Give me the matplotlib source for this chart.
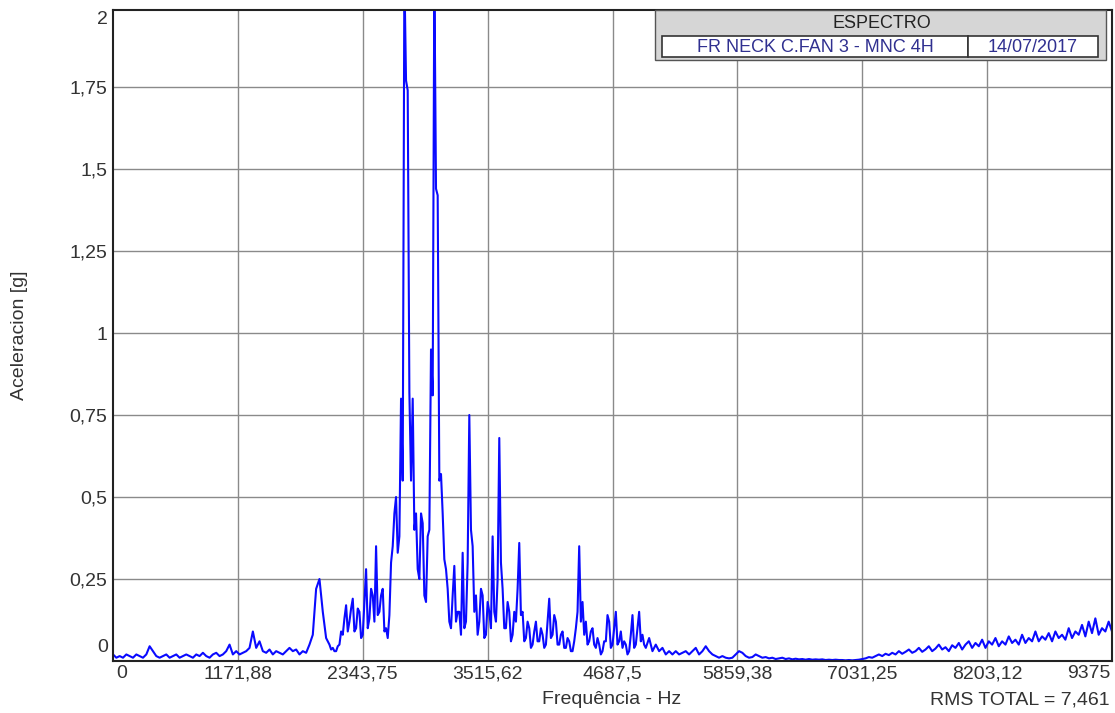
import numpy as np
import matplotlib.pyplot as plt
from matplotlib.patches import Rectangle

plt.rcParams['font.family'] = ['Liberation Sans', 'DejaVu Sans']

# spectrum: coarse bins below 2 kHz and above 5 kHz,
# finer bins through the busy 2-5 kHz band
lo_g = [
    0.02, 0.01, 0.015, 0.01, 0.02, 0.015, 0.01, 0.02,          # 0
    0.015, 0.01, 0.02, 0.045, 0.03, 0.015, 0.01, 0.015,        # 250
    0.02, 0.01, 0.015, 0.02, 0.01, 0.015, 0.02, 0.015,         # 500
    0.01, 0.02, 0.015, 0.025, 0.015, 0.01, 0.02, 0.025,        # 750
    0.015, 0.02, 0.03, 0.05, 0.02, 0.03, 0.02, 0.025,          # 1000
    0.03, 0.04, 0.09, 0.04, 0.06, 0.03, 0.025, 0.035,          # 1250
    0.02, 0.03, 0.025, 0.02, 0.03, 0.04, 0.03, 0.035,          # 1500
    0.02, 0.03, 0.025, 0.05, 0.08, 0.22, 0.25, 0.15,           # 1750
]
mid_g = [
    0.07, 0.06, 0.05, 0.035, 0.04, 0.03, 0.03, 0.045, 0.05, 0.09, 0.08, 0.13, 0.17, 0.09, 0.12, 0.16,   # 2000
    0.19, 0.09, 0.10, 0.16, 0.15, 0.07, 0.08, 0.18, 0.28, 0.10, 0.13, 0.22, 0.20, 0.12, 0.35, 0.14,     # 2250
    0.15, 0.20, 0.22, 0.09, 0.10, 0.07, 0.14, 0.30, 0.35, 0.45, 0.50, 0.33, 0.38, 0.80, 0.55, 2.10,     # 2500
    1.77, 1.74, 0.82, 0.55, 0.80, 0.40, 0.45, 0.28, 0.25, 0.45, 0.42, 0.20, 0.18, 0.38, 0.40, 0.95,     # 2750
    0.81, 2.10, 1.44, 1.42, 0.55, 0.57, 0.45, 0.31, 0.28, 0.22, 0.12, 0.10, 0.20, 0.29, 0.12, 0.15,     # 3000
    0.15, 0.08, 0.33, 0.10, 0.12, 0.30, 0.75, 0.40, 0.35, 0.15, 0.20, 0.08, 0.12, 0.22, 0.20, 0.07,     # 3250
    0.08, 0.18, 0.15, 0.10, 0.38, 0.15, 0.12, 0.25, 0.68, 0.30, 0.22, 0.10, 0.10, 0.18, 0.15, 0.06,     # 3500
    0.08, 0.15, 0.12, 0.22, 0.36, 0.14, 0.15, 0.06, 0.07, 0.12, 0.10, 0.04, 0.05, 0.09, 0.12, 0.06,     # 3750
    0.06, 0.10, 0.08, 0.04, 0.05, 0.12, 0.19, 0.07, 0.08, 0.14, 0.12, 0.05, 0.05, 0.08, 0.09, 0.04,     # 4000
    0.04, 0.07, 0.06, 0.03, 0.03, 0.06, 0.10, 0.15, 0.35, 0.12, 0.18, 0.08, 0.12, 0.05, 0.06, 0.09,     # 4250
    0.10, 0.05, 0.04, 0.07, 0.05, 0.02, 0.03, 0.06, 0.06, 0.14, 0.12, 0.04, 0.05, 0.10, 0.15, 0.05,     # 4500
    0.06, 0.09, 0.04, 0.06, 0.05, 0.02, 0.03, 0.08, 0.14, 0.04, 0.05, 0.10, 0.15, 0.06, 0.08, 0.05,     # 4750
]
hi_g = [
    0.04, 0.07, 0.03, 0.05, 0.03, 0.04, 0.02, 0.03,            # 5000
    0.02, 0.03, 0.02, 0.025, 0.03, 0.02, 0.03, 0.04,           # 5250
    0.02, 0.03, 0.045, 0.03, 0.02, 0.015, 0.01, 0.015,         # 5500
    0.01, 0.008, 0.01, 0.02, 0.03, 0.025, 0.015, 0.01,         # 5750
    0.012, 0.02, 0.015, 0.01, 0.012, 0.008, 0.01, 0.006,       # 6000
    0.008, 0.01, 0.006, 0.008, 0.005, 0.007, 0.005, 0.006,     # 6250
    0.004, 0.006, 0.004, 0.005, 0.004, 0.005, 0.003, 0.004,    # 6500
    0.003, 0.004, 0.003, 0.003, 0.002, 0.003, 0.002, 0.003,    # 6750
    0.004, 0.006, 0.008, 0.012, 0.01, 0.015, 0.02, 0.015,      # 7000
    0.022, 0.018, 0.025, 0.02, 0.03, 0.022, 0.028, 0.035,      # 7250
    0.025, 0.03, 0.04, 0.028, 0.035, 0.045, 0.03, 0.038,       # 7500
    0.05, 0.035, 0.042, 0.03, 0.048, 0.04, 0.055, 0.035,       # 7750
    0.05, 0.06, 0.04, 0.055, 0.045, 0.065, 0.04, 0.06,         # 8000
    0.05, 0.07, 0.045, 0.06, 0.05, 0.075, 0.055, 0.065,        # 8250
    0.05, 0.08, 0.055, 0.07, 0.06, 0.09, 0.06, 0.075,          # 8500
    0.065, 0.085, 0.06, 0.09, 0.07, 0.08, 0.065, 0.10,         # 8750
    0.07, 0.09, 0.08, 0.11, 0.075, 0.12, 0.085, 0.13,          # 9000
    0.08, 0.10, 0.09, 0.12, 0.09,                              # 9250
]
lo_hz = np.arange(len(lo_g)) * 31.25
mid_hz = 2000 + np.arange(len(mid_g)) * 15.625
hi_hz = 5000 + np.arange(len(hi_g)) * 31.25
freq_hz = np.concatenate([lo_hz, mid_hz, hi_hz])
accel_g = np.concatenate([lo_g, mid_g, hi_g])

xtick_vals = [1171.875, 2343.75, 3515.625, 4687.5, 5859.375, 7031.25, 8203.125]
xtick_labels = ['1171,88', '2343,75', '3515,62', '4687,5', '5859,38', '7031,25', '8203,12']
ytick_vals = [0.25, 0.5, 0.75, 1, 1.25, 1.5, 1.75]
ytick_labels = ['0,25', '0,5', '0,75', '1', '1,25', '1,5', '1,75']

W, H = 1115, 713
fig = plt.figure(figsize=(W / 100, H / 100), dpi=100)
ax = fig.add_axes([113 / W, 1 - 661 / H, (1112 - 113) / W, (661 - 10) / H])

ax.plot(freq_hz, accel_g, color='#0a0aff', lw=1.5)
ax.set_xlim(0, 9375)
ax.set_ylim(0, 1.985)
ax.set_xticks(xtick_vals, xtick_labels)
ax.set_yticks(ytick_vals, ytick_labels)
ax.grid(True, color='#8a8a8a', lw=1)
ax.set_axisbelow(True)
ax.tick_params(length=0, labelsize=14, colors='#333333')
ax.tick_params(axis='y', pad=4)
ax.tick_params(axis='x', pad=3)
for sp in ax.spines.values():
    sp.set_linewidth(1.5)
    sp.set_color('#222222')

# end labels sit pulled inside the axis range, as in the original
tc = '#333333'
fig.text(108 / W, 1 - 648 / H, '0', ha='right', va='center', fontsize=14, color=tc)
fig.text(108 / W, 1 - 20 / H, '2', ha='right', va='center', fontsize=14, color=tc)
fig.text(122 / W, 1 - 674 / H, '0', ha='center', va='center', fontsize=14, color=tc)
fig.text(1111 / W, 1 - 674 / H, '9375', ha='right', va='center', fontsize=14, color=tc)

fig.text(20 / W, 1 - 335 / H, 'Aceleracion [g]', rotation=90, ha='center', va='center',
         fontsize=14, color=tc)
fig.text(612 / W, 1 - 700 / H, 'Frequência - Hz', ha='center', va='center',
         fontsize=14, color=tc)
fig.text(1110 / W, 1 - 700 / H, 'RMS TOTAL = 7,461', ha='right', va='center',
         fontsize=14, color=tc)


def px_rect(x0, y0, x1, y1, **kw):
    r = Rectangle((x0 / W, 1 - y1 / H), (x1 - x0) / W, (y1 - y0) / H,
                  transform=fig.transFigure, **kw)
    fig.add_artist(r)


# title box
px_rect(655, 10, 1106, 60, fc='#d6d6d6', ec='#555555', lw=1)
px_rect(662, 36, 968, 57, fc='white', ec='#333333', lw=1.2)
px_rect(968, 36, 1098, 57, fc='white', ec='#333333', lw=1.2)
fig.text(882 / W, 1 - 24 / H, 'ESPECTRO', ha='center', va='center', fontsize=13, color='#222222')
fig.text(815 / W, 1 - 47 / H, 'FR NECK C.FAN 3 - MNC 4H', ha='center', va='center',
         fontsize=13, color='#303090')
fig.text(1033 / W, 1 - 47 / H, '14/07/2017', ha='center', va='center',
         fontsize=13, color='#303090')

fig.savefig('out.png', dpi=100)
